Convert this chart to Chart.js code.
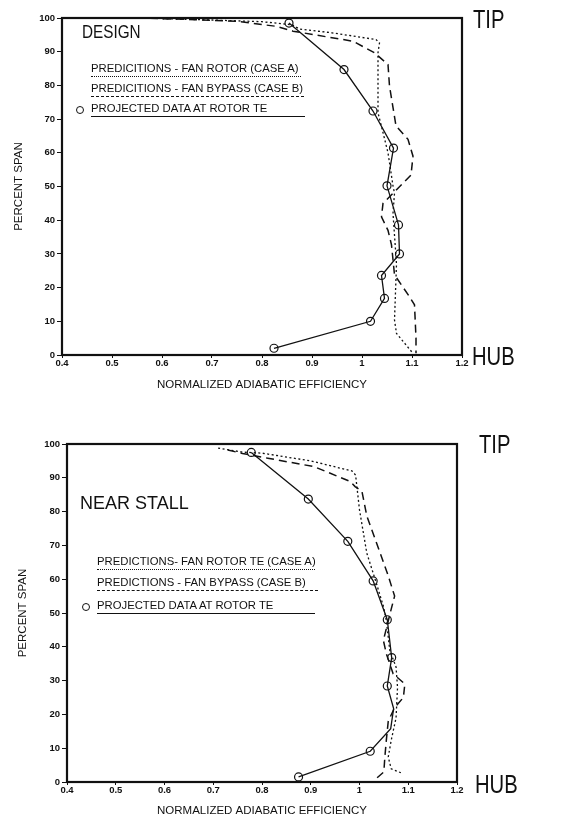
<!DOCTYPE html>
<html>
<head>
<meta charset="utf-8">
<script src="https://cdn.jsdelivr.net/npm/chart.js@4.4.0/dist/chart.umd.min.js"></script>
<style>
  body { margin: 0; background: #fff; width: 572px; height: 818px; position: relative; overflow: hidden; font-family: "Liberation Sans", Arial, sans-serif; color: #111; }
  .box { position: absolute; left: 0; }
  .note { position: absolute; white-space: nowrap; line-height: 1; }
  .big { font-size: 25px; transform: scaleX(0.81); transform-origin: left center; }
  .title { font-size: 18px; }
  .narrow { transform: scaleX(0.85); transform-origin: left center; }
  .leg { font-size: 11.3px; padding-bottom: 2px; }
  .dot { border-bottom: 1.5px dotted #111; }
  .dash { border-bottom: 1.5px dashed #111; }
  .solid { border-bottom: 1.5px solid #111; }
  .ring { position: absolute; width: 6px; height: 6px; border: 1.2px solid #111; border-radius: 50%; }
</style>
</head>
<body>
<div class="box" style="top:0;width:572px;height:392px"><canvas id="designChart" width="572" height="392"></canvas></div>
<div class="box" style="top:420px;width:572px;height:398px"><canvas id="stallChart" width="572" height="398"></canvas></div>

<div class="note big" style="left:473px;top:7px">TIP</div>
<div class="note big" style="left:472px;top:344px">HUB</div>
<div class="note big" style="left:479px;top:432px">TIP</div>
<div class="note big" style="left:475px;top:772px">HUB</div>

<div class="note title narrow" style="left:82px;top:23px">DESIGN</div>
<div class="note leg dot" style="left:91px;top:63px;width:210px">PREDICITIONS - FAN ROTOR (CASE A)</div>
<div class="note leg dash" style="left:91px;top:83px;width:213px">PREDICITIONS - FAN BYPASS (CASE B)</div>
<div class="ring" style="left:76px;top:106px"></div>
<div class="note leg solid" style="left:91px;top:103px;width:214px">PROJECTED DATA AT ROTOR TE</div>

<div class="note title" style="left:80px;top:494px">NEAR STALL</div>
<div class="note leg dot" style="left:97px;top:556px;width:218px">PREDICTIONS- FAN ROTOR TE (CASE A)</div>
<div class="note leg dash" style="left:97px;top:577px;width:221px">PREDICTIONS - FAN BYPASS (CASE B)</div>
<div class="ring" style="left:82px;top:603px"></div>
<div class="note leg solid" style="left:97px;top:600px;width:218px">PROJECTED DATA AT ROTOR TE</div>

<script>
// axis ticks
const effTicks = ['0.4', '0.5', '0.6', '0.7', '0.8', '0.9', '1', '1.1', '1.2'];
const spanTicks = [0, 10, 20, 30, 40, 50, 60, 70, 80, 90, 100];

// DESIGN - projected data at rotor TE
const designDataEff = [0.854, 0.964, 1.022, 1.063, 1.050, 1.073, 1.075, 1.039, 1.045, 1.017, 0.824];
const designDataSpan = [98.5, 84.7, 72.4, 61.4, 50.2, 38.6, 30.0, 23.6, 16.8, 10.0, 2.0];

// DESIGN - fan rotor prediction (case A)
const designRotorEff = [0.60, 0.70, 0.80, 0.86, 0.875, 0.94, 1.028, 1.035, 1.032, 1.032, 1.042, 1.052, 1.062, 1.065, 1.062, 1.069, 1.065, 1.069, 1.102];
const designRotorSpan = [99.8, 99.4, 98.9, 98.0, 96.7, 95.6, 93.6, 92.6, 89.7, 71.9, 66, 60, 50.2, 48, 42, 27, 10.4, 6.4, 0.5];

// DESIGN - fan bypass prediction (case B)
const designBypassEff = [0.55, 0.65, 0.75, 0.83, 0.862, 0.982, 1.025, 1.052, 1.055, 1.068, 1.092, 1.102, 1.098, 1.072, 1.042, 1.039, 1.052, 1.059, 1.065, 1.095, 1.105, 1.108, 1.108];
const designBypassSpan = [100, 99.6, 99.0, 97.5, 96.1, 93.1, 89.7, 86.2, 79.8, 68, 64, 59, 53.4, 49.5, 45, 41, 37, 32.7, 23.8, 17.3, 14.9, 5, 0.5];

// NEAR STALL - projected data at rotor TE (points 7 and 8 are plain line vertices)
const stallDataEff = [0.778, 0.895, 0.976, 1.028, 1.057, 1.066, 1.057, 1.070, 1.064, 1.022, 0.875];
const stallDataSpan = [97.5, 83.7, 71.2, 59.5, 48, 36.8, 28.4, 21.7, 15.8, 9.1, 1.5];
const stallNoMarker = [7, 8];

// NEAR STALL - fan rotor prediction (case A)
const stallRotorEff = [0.71, 0.76, 0.80, 0.83, 0.90, 0.985, 0.992, 1.0, 1.015, 1.032, 1.049, 1.055, 1.062, 1.075, 1.078, 1.075, 1.065, 1.059, 1.065, 1.089];
const stallRotorSpan = [98.8, 97.6, 97.3, 96.6, 95.0, 92.0, 90.8, 80.5, 67.7, 60, 52, 47.8, 39, 34, 28, 19, 12.3, 7.4, 3.9, 2.5];

// NEAR STALL - fan bypass prediction (case B)
const stallBypassEff = [0.73, 0.76, 0.812, 0.907, 0.981, 0.991, 1.005, 1.015, 1.042, 1.059, 1.072, 1.063, 1.049, 1.055, 1.069, 1.093, 1.09, 1.072, 1.059, 1.055, 1.052, 1.05, 1.03];
const stallBypassSpan = [98.2, 97.2, 95.8, 93.3, 88.9, 87.4, 86, 78.7, 67.9, 61, 55, 50, 41.9, 38, 32, 29, 25, 22, 18, 12.3, 7.4, 3, 0.5];

const ink = '#111';

function pts(xs, ys) {
    return xs.map(function(x, i) { return {x: x, y: ys[i]}; });
}

// black frame round the plot
const framePlugin = {
    id: 'frame',
    afterDatasetsDraw: function(chart) {
        const a = chart.chartArea, c = chart.ctx;
        c.save();
        c.strokeStyle = ink;
        c.lineWidth = 2.2;
        c.strokeRect(a.left, a.top, a.right - a.left, a.bottom - a.top);
        c.restore();
    }
};

function makeChart(id, data, rotor, bypass, noMarker, pad, yWidth, xHeight) {
    const ctx = document.getElementById(id).getContext('2d');
    return new Chart(ctx, {
        type: 'scatter',
        data: {
            datasets: [{
                data: pts(rotor[0], rotor[1]),
                showLine: true,
                borderColor: ink,
                borderWidth: 1.3,
                borderDash: [2, 2.5],
                pointRadius: 0
            }, {
                data: pts(bypass[0], bypass[1]),
                showLine: true,
                borderColor: ink,
                borderWidth: 1.5,
                borderDash: [8, 5],
                pointRadius: 0
            }, {
                data: pts(data[0], data[1]),
                showLine: true,
                borderColor: ink,
                borderWidth: 1.3,
                pointStyle: 'circle',
                pointRadius: function(c) { return noMarker.includes(c.dataIndex) ? 0 : 4; },
                pointBackgroundColor: 'rgba(255,255,255,0)',
                pointBorderColor: ink,
                pointBorderWidth: 1.2
            }]
        },
        options: {
            responsive: false,
            animation: false,
            layout: { padding: pad },
            plugins: { legend: { display: false }, tooltip: { enabled: false } },
            scales: {
                x: {
                    type: 'linear',
                    min: 0.4,
                    max: 1.2,
                    afterBuildTicks: function(s) { s.ticks = effTicks.map(function(t) { return {value: parseFloat(t)}; }); },
                    afterFit: function(s) { s.height = xHeight; },
                    grid: { drawOnChartArea: false, tickLength: 3, color: ink },
                    border: { display: false },
                    ticks: {
                        padding: 0,
                        color: ink,
                        font: { family: 'Liberation Sans', size: 9.5, weight: 'bold' },
                        maxRotation: 0,
                        callback: function(v, i) { return effTicks[i]; }
                    },
                    title: {
                        display: true,
                        text: 'NORMALIZED ADIABATIC EFFICIENCY',
                        color: ink,
                        padding: { top: 2, bottom: 0 },
                        font: { family: 'Liberation Sans', size: 11.5 }
                    }
                },
                y: {
                    type: 'linear',
                    min: 0,
                    max: 100,
                    afterBuildTicks: function(s) { s.ticks = spanTicks.map(function(t) { return {value: t}; }); },
                    afterFit: function(s) { s.width = yWidth; },
                    grid: { drawOnChartArea: false, tickLength: 5, color: ink },
                    border: { display: false },
                    ticks: {
                        padding: 2,
                        color: ink,
                        font: { family: 'Liberation Sans', size: 9.5, weight: 'bold' }
                    },
                    title: {
                        display: true,
                        text: 'PERCENT SPAN',
                        color: ink,
                        padding: 0,
                        font: { family: 'Liberation Sans', size: 11.5 }
                    }
                }
            }
        },
        plugins: [framePlugin]
    });
}

makeChart('designChart',
    [designDataEff, designDataSpan],
    [designRotorEff, designRotorSpan],
    [designBypassEff, designBypassSpan],
    [],
    { left: 12, right: 110, top: 18, bottom: 0 }, 50, 37);

makeChart('stallChart',
    [stallDataEff, stallDataSpan],
    [stallRotorEff, stallRotorSpan],
    [stallBypassEff, stallBypassSpan],
    stallNoMarker,
    { left: 16, right: 115, top: 24, bottom: 0 }, 51, 36);
</script>
</body>
</html>
